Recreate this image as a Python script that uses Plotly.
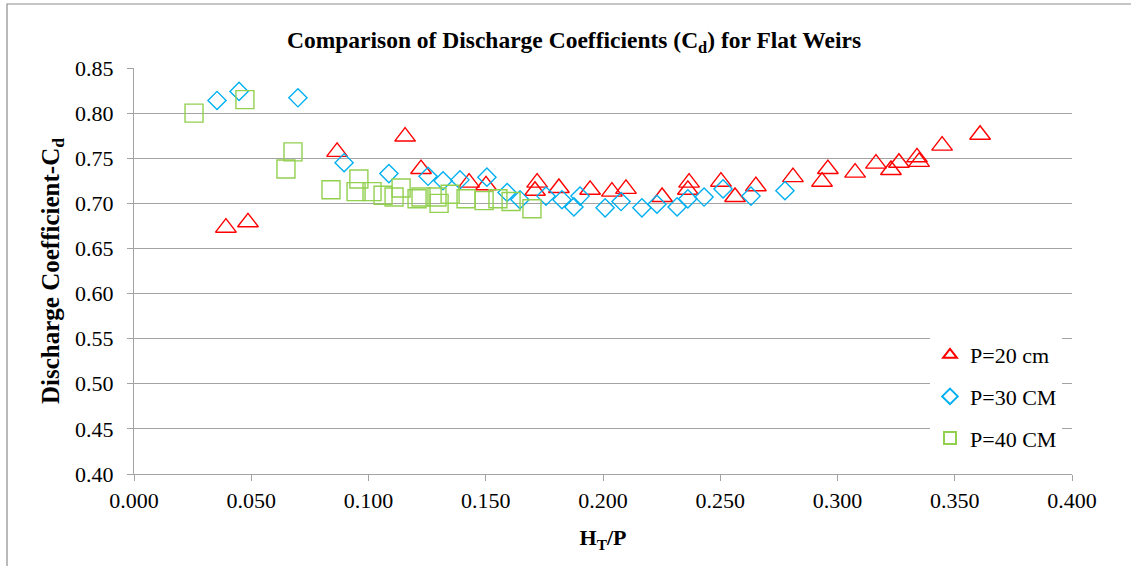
import plotly.graph_objects as go

# P = 20 cm (red triangles)
p20_x = [0.0392, 0.0486, 0.0866, 0.1156, 0.1224, 0.1429, 0.1501, 0.1719, 0.1710, 0.1812,
         0.1945, 0.2038, 0.2098, 0.2252, 0.2367, 0.2362, 0.2503, 0.2563, 0.2652, 0.2810,
         0.2934, 0.2959, 0.3075, 0.3164, 0.3228, 0.3262, 0.3339, 0.3348, 0.3446, 0.3608]
p20_y = [0.673, 0.679, 0.757, 0.774, 0.738, 0.723, 0.720, 0.723, 0.714, 0.717,
         0.715, 0.713, 0.716, 0.707, 0.723, 0.715, 0.724, 0.707, 0.719, 0.729,
         0.724, 0.738, 0.734, 0.744, 0.737, 0.745, 0.751, 0.746, 0.764, 0.776]

# P = 30 cm (blue diamonds)
p30_x = [0.0354, 0.0448, 0.0699, 0.0896, 0.1087, 0.1254, 0.1318, 0.1390, 0.1505, 0.1591,
         0.1646, 0.1757, 0.1825, 0.1876, 0.1902, 0.2009, 0.2077, 0.2166, 0.2230, 0.2316,
         0.2362, 0.2431, 0.2512, 0.2631, 0.2776]
p30_y = [0.814, 0.824, 0.817, 0.745, 0.733, 0.730, 0.725, 0.726, 0.729, 0.712,
         0.704, 0.708, 0.704, 0.696, 0.708, 0.695, 0.702, 0.695, 0.699, 0.696,
         0.705, 0.707, 0.716, 0.708, 0.714]

# P = 40 cm (green squares)
p40_x = [0.0256, 0.0473, 0.0678, 0.0648, 0.0840, 0.0959, 0.0947, 0.1015, 0.1062, 0.1109,
         0.1139, 0.1207, 0.1224, 0.1292, 0.1301, 0.1348, 0.1416, 0.1493, 0.1552, 0.1608,
         0.1697]
p40_y = [0.800, 0.815, 0.757, 0.738, 0.715, 0.727, 0.713, 0.713, 0.709, 0.707,
         0.717, 0.705, 0.707, 0.707, 0.700, 0.710, 0.705, 0.703, 0.705, 0.702,
         0.694]

x_tick_vals = [0.0, 0.05, 0.1, 0.15, 0.2, 0.25, 0.3, 0.35, 0.4]
x_tick_text = ["0.000", "0.050", "0.100", "0.150", "0.200", "0.250", "0.300", "0.350", "0.400"]
y_tick_vals = [0.40, 0.45, 0.50, 0.55, 0.60, 0.65, 0.70, 0.75, 0.80, 0.85]
y_tick_text = ["0.40", "0.45", "0.50", "0.55", "0.60", "0.65", "0.70", "0.75", "0.80", "0.85"]

FONT = "Liberation Serif, Times New Roman, serif"
GRID = "#a3a3a3"

fig = go.Figure()
fig.add_trace(go.Scatter(x=p20_x, y=p20_y, mode="markers", name="P=20 cm", legendgroup="a",
                         marker=dict(symbol="triangle-up-open", size=18, color="#ff0000",
                                     line=dict(width=1.4, color="#ff0000"))))
fig.add_trace(go.Scatter(x=p30_x, y=p30_y, mode="markers", name="P=30 CM", legendgroup="b",
                         marker=dict(symbol="diamond-open", size=14, color="#00b0f0",
                                     line=dict(width=1.4, color="#00b0f0"))))
fig.add_trace(go.Scatter(x=p40_x, y=p40_y, mode="markers", name="P=40 CM", legendgroup="c",
                         marker=dict(symbol="square-open", size=18, color="#92d050",
                                     line=dict(width=1.4, color="#92d050"))))

W, H = 1131, 566
L, R, T, B = 134, 59, 68, 92
pw, ph = W - L - R, H - T - B

def px_x(p):
    return (p - L) / pw

def px_y(p):
    return (H - B - p) / ph

fig.add_shape(type="rect", xref="paper", yref="paper",
              x0=px_x(7), x1=px_x(1145), y0=px_y(4), y1=px_y(580),
              line=dict(color="#8c8c8c", width=1.2), fillcolor="rgba(0,0,0,0)", layer="below")

fig.update_layout(
    width=W, height=H,
    margin=dict(l=L, r=R, t=T, b=B),
    paper_bgcolor="white", plot_bgcolor="white",
    font=dict(family=FONT, size=22, color="black"),
    title=dict(text="<b>Comparison of Discharge Coefficients (C<sub>d</sub>) for Flat Weirs</b>",
               x=574 / W, xanchor="center", xref="container",
               y=1 - 40 / H, yanchor="middle", yref="container",
               font=dict(family=FONT, size=23.5, color="black")),
    xaxis=dict(range=[0, 0.4], tickvals=x_tick_vals, ticktext=x_tick_text,
               showgrid=False, zeroline=False, showline=True, linecolor=GRID, linewidth=1.3,
               ticks="outside", ticklen=6, tickcolor=GRID, tickwidth=1.3,
               tickfont=dict(family=FONT, size=22),
               title=dict(text="<b>H<sub>T</sub>/P</b>", font=dict(family=FONT, size=22), standoff=18)),
    yaxis=dict(range=[0.40, 0.85], tickvals=y_tick_vals, ticktext=y_tick_text,
               showgrid=True, gridcolor=GRID, gridwidth=1.3, zeroline=False,
               showline=True, linecolor=GRID, linewidth=1.3,
               ticks="outside", ticklen=6, tickcolor=GRID, tickwidth=1.3,
               ticklabelstandoff=9,
               tickfont=dict(family=FONT, size=22),
               title=dict(text="<b>Discharge Coefficient-C<sub>d</sub></b>",
                          font=dict(family=FONT, size=25), standoff=8)),
    legend=dict(x=px_x(930), y=px_y(334), xanchor="left", yanchor="top",
                bgcolor="white", borderwidth=0, itemsizing="constant",
                tracegroupgap=10, font=dict(family=FONT, size=22)),
    showlegend=True,
)

fig.write_html("out.html")
